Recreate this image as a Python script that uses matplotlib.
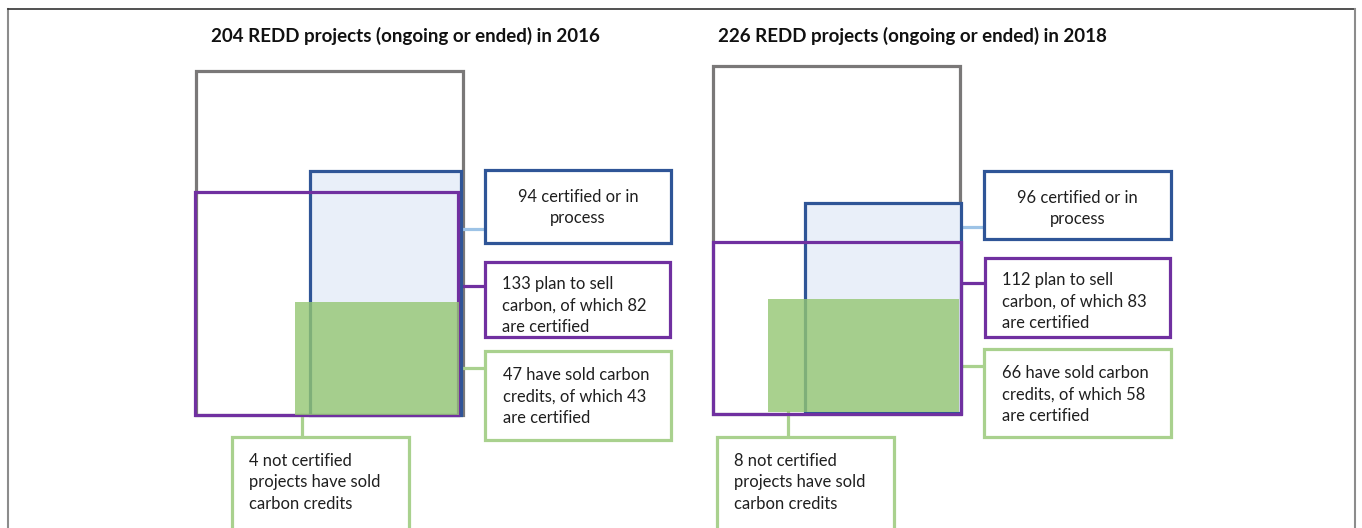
import matplotlib.pyplot as plt
import matplotlib as mpl
from matplotlib.patches import Rectangle

# data: project counts per survey year
years = [2016, 2018]
n_total = [204, 226]
n_certified = [94, 96]
n_plan_sell = [133, 112]
n_plan_sell_cert = [82, 83]
n_sold = [47, 66]
n_sold_cert = [43, 58]
n_sold_uncert = [4, 8]

titles = ['%d REDD projects (ongoing or ended) in %d' % (n, y) for n, y in zip(n_total, years)]
lbl_cert = ['%d certified or in\nprocess' % n for n in n_certified]
lbl_plan = ['%d plan to sell\ncarbon, of which %d\nare certified' % (a, b) for a, b in zip(n_plan_sell, n_plan_sell_cert)]
lbl_sold = ['%d have sold carbon\ncredits, of which %d\nare certified' % (a, b) for a, b in zip(n_sold, n_sold_cert)]
lbl_uncert = ['%d not certified\nprojects have sold\ncarbon credits' % n for n in n_sold_uncert]

# layout in pixel coordinates (x0, y0, x1, y1), one entry per panel
title_pos = [(211, 36), (718, 36)]
rect_total = [(196, 71, 463, 415), (713, 66, 960, 414)]
rect_cert = [(310, 171, 461, 415), (805, 203, 961, 413)]
rect_plan = [(195, 192, 458, 415), (713, 242, 961, 414)]
rect_sold = [(295, 302, 459, 415), (768, 299, 959, 412)]
box_cert = [(485, 170, 671, 243), (984, 171, 1171, 239)]
box_plan = [(485, 262, 670, 337), (985, 258, 1170, 337)]
box_sold = [(485, 351, 671, 440), (984, 349, 1171, 437)]
box_uncert = [(232, 437, 409, 540), (717, 437, 894, 540)]
link_cert_y = [229, 227]
link_plan_y = [286, 283]
link_sold_y = [368, 366]
link_uncert_x = [302, 788]

C_GRAY = '#7a7878'
C_BLUE = '#2f5597'
C_BLUE_FILL = '#e9eff9'
C_BLUE_LINK = '#9dc3e6'
C_PURPLE = '#7030a0'
C_GREEN = '#a9d18e'
C_GREEN_FILL = '#94c672'  # drawn with alpha so it reads as C_GREEN on white

mpl.rc('font', family=['Lato', 'DejaVu Sans'], size=11.9)

fig = plt.figure(figsize=(13.62, 5.28), dpi=100)
ax = fig.add_axes([0, 0, 1, 1])
ax.set_xlim(0, 1362)
ax.set_ylim(528, 0)
ax.axis('off')

LW = 2.3
LH = 21.3  # line height of box text in px


def rect(r, **kw):
    x0, y0, x1, y1 = r
    ax.add_patch(Rectangle((x0, y0), x1 - x0, y1 - y0, **kw))


def lines(x, y, txt, ha='left'):
    for i, s in enumerate(txt.split('\n')):
        ax.text(x, y + i * LH, s, ha=ha, va='center', color='#1f1f1f', zorder=6)


# page frame
ax.plot([8, 8], [9, 528], color='#8c8c8c', lw=1.5)
ax.plot([8, 1355], [9, 9], color='#333333', lw=1.2)
ax.plot([1355, 1355], [9, 528], color='#8c8c8c', lw=1.5)

for i in range(len(years)):
    ax.text(title_pos[i][0], title_pos[i][1], titles[i], fontsize=13.5,
            fontweight='bold', va='center', ha='left', color='#111111')

    rect(rect_total[i], fill=False, ec=C_GRAY, lw=LW, zorder=1)
    rect(rect_cert[i], fc=C_BLUE_FILL, ec=C_BLUE, lw=LW, zorder=2)
    rect(rect_plan[i], fill=False, ec=C_PURPLE, lw=LW, zorder=3)
    rect(rect_sold[i], fc=C_GREEN_FILL, ec='none', alpha=0.8, zorder=4)

    # connectors
    xr = rect_cert[i][2]
    ax.plot([xr, box_cert[i][0]], [link_cert_y[i]] * 2, color=C_BLUE_LINK, lw=LW, zorder=1)
    ax.plot([xr, box_plan[i][0]], [link_plan_y[i]] * 2, color=C_PURPLE, lw=LW, zorder=1)
    ax.plot([xr, box_sold[i][0]], [link_sold_y[i]] * 2, color=C_GREEN, lw=LW, zorder=1)
    ax.plot([link_uncert_x[i]] * 2, [rect_sold[i][3], box_uncert[i][1]], color=C_GREEN, lw=LW, zorder=1)

    # label boxes
    rect(box_cert[i], fc='white', ec=C_BLUE, lw=LW, zorder=5)
    rect(box_plan[i], fc='white', ec=C_PURPLE, lw=LW, zorder=5)
    rect(box_sold[i], fc='white', ec=C_GREEN, lw=LW, zorder=5)
    rect(box_uncert[i], fc='white', ec=C_GREEN, lw=LW, zorder=5)

    bx = box_cert[i]
    lines((bx[0] + bx[2]) / 2, bx[1] + 27, lbl_cert[i], ha='center')
    lines(box_plan[i][0] + 17, box_plan[i][1] + 22, lbl_plan[i])
    lines(box_sold[i][0] + 18, box_sold[i][1] + 24, lbl_sold[i])
    lines(box_uncert[i][0] + 17, box_uncert[i][1] + 24, lbl_uncert[i])

ax.texts[0].set_zorder(6)

fig.savefig('out.png', dpi=100)
plt.close('all')
